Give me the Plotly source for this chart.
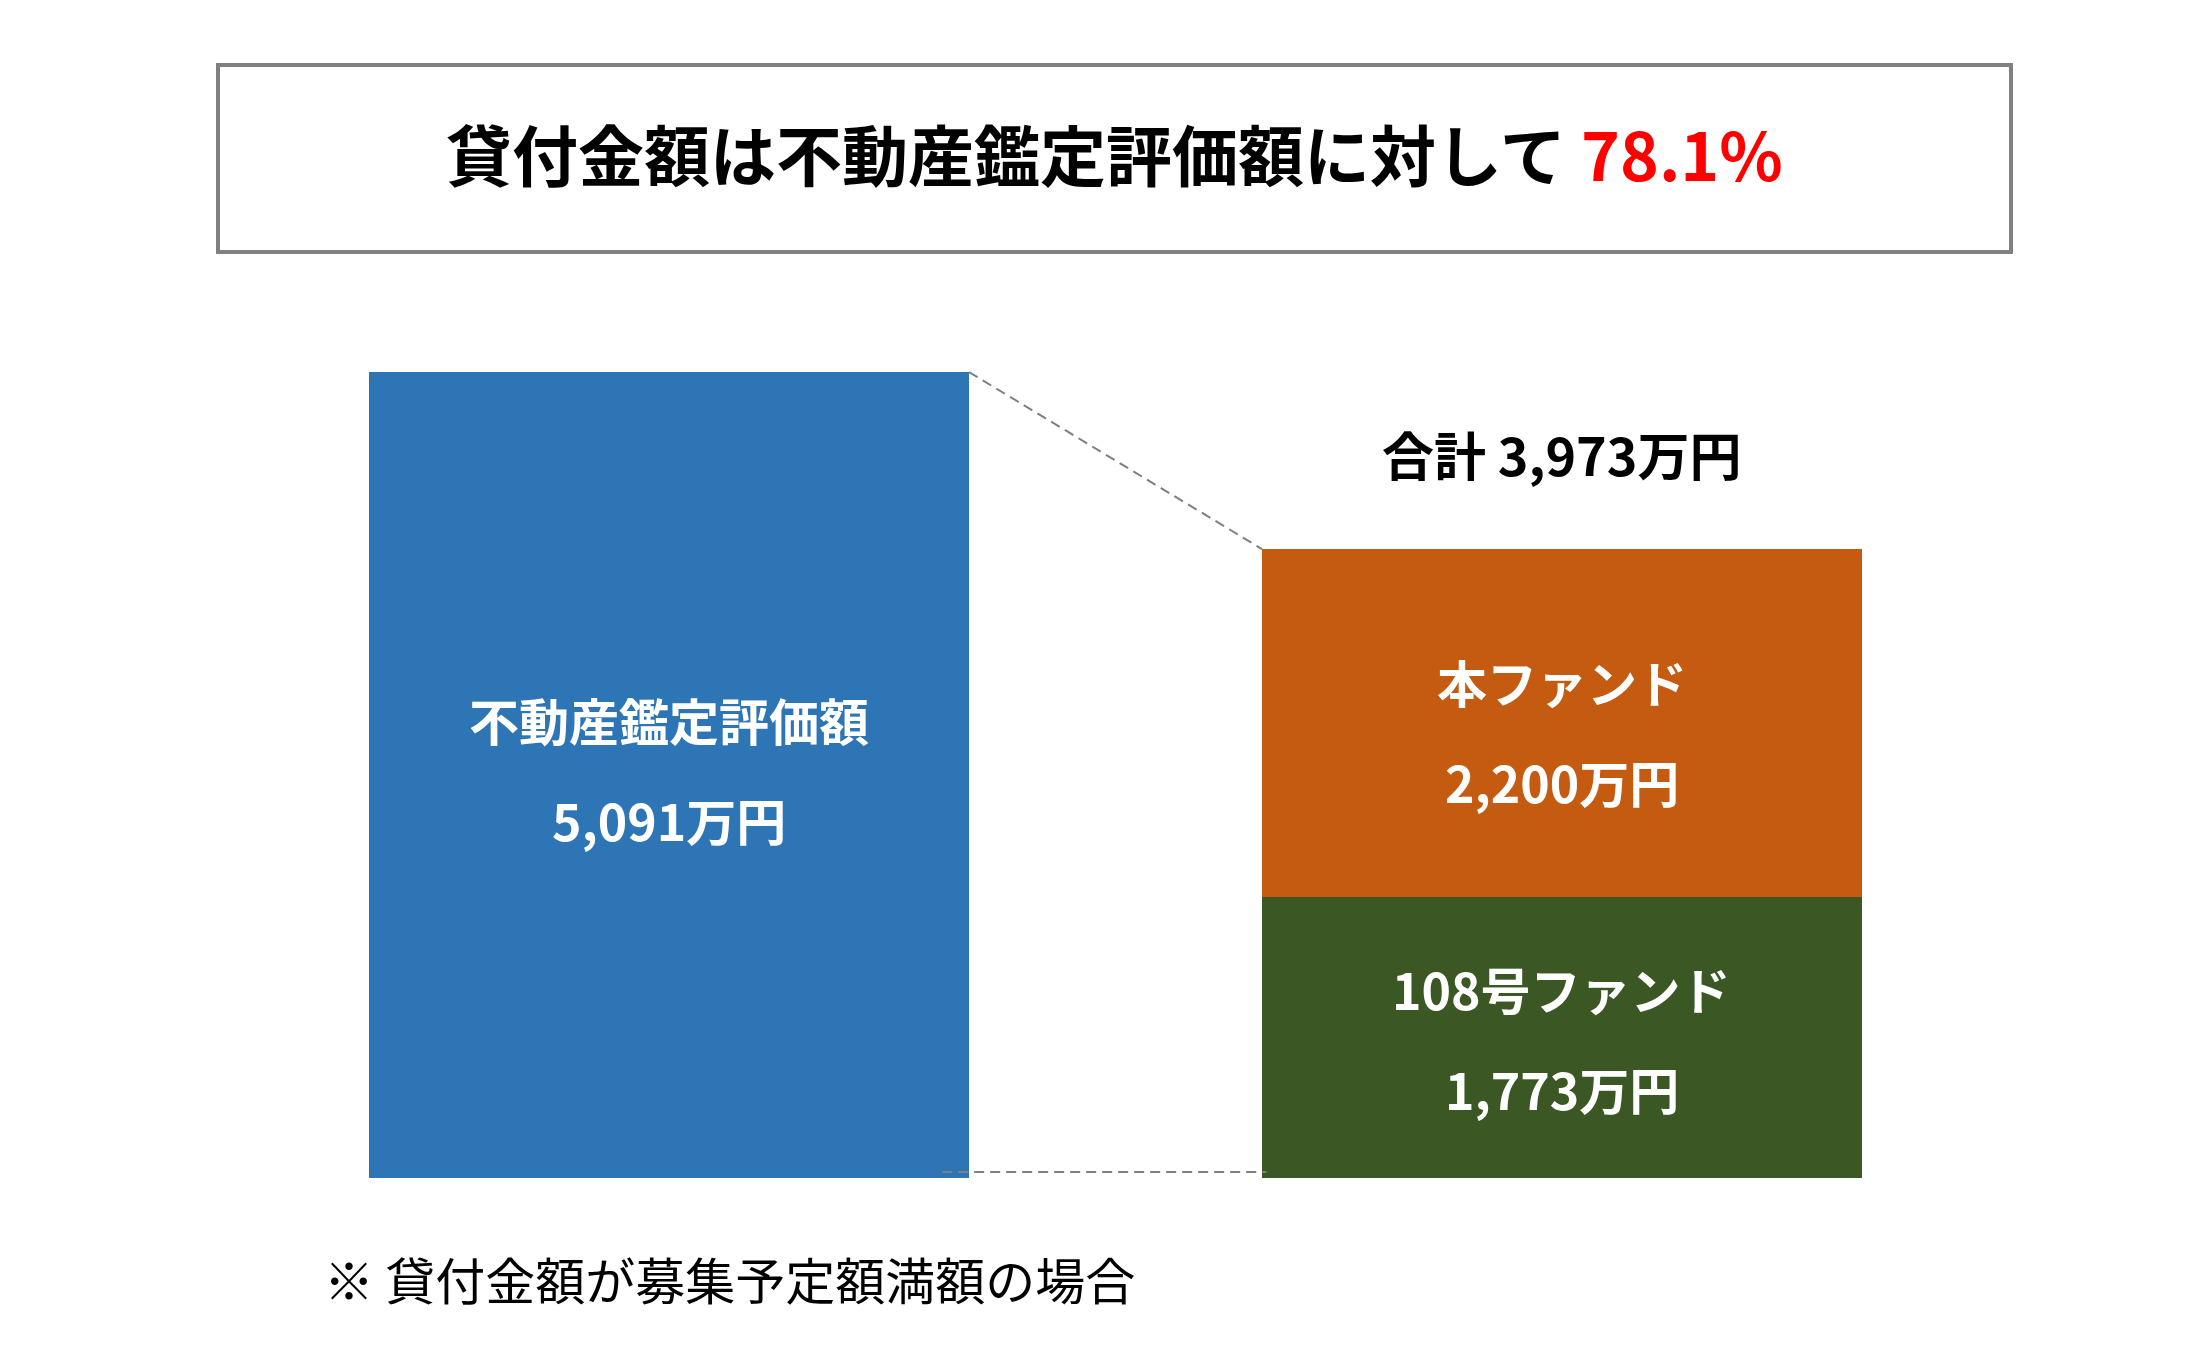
import plotly.graph_objects as go

# ---- data ----
categories = ["不動産鑑定評価額", "本ファンド", "108号ファンド"]
appraisal_value = [5091]          # 万円
fund_this = [2200]                # 万円
fund_108 = [1773]                 # 万円
value_labels = ["5,091万円", "2,200万円", "1,773万円"]
total_label = "合計 3,973万円"
ratio_label = "78.1%"
title_text = "貸付金額は不動産鑑定評価額に対して"
footnote = "※ 貸付金額が募集予定額満額の場合"

# ---- style ----
W, H = 2209, 1352
BAR_W = 0.672
C_BLUE = "#2E75B6"
C_ORANGE = "#C55A11"
C_GREEN = "#3A5724"
FONT = "Noto Sans CJK JP"
DASH_COLOR = "#7F7F7F"

total = fund_this[0] + fund_108[0]

fig = go.Figure()
fig.add_trace(go.Bar(x=[0], y=appraisal_value, width=BAR_W, marker=dict(color=C_BLUE, line=dict(width=0)),
                     hoverinfo="skip", showlegend=False))
fig.add_trace(go.Bar(x=[1], y=fund_108, width=BAR_W, marker=dict(color=C_GREEN, line=dict(width=0)),
                     hoverinfo="skip", showlegend=False))
fig.add_trace(go.Bar(x=[1], y=fund_this, width=BAR_W, marker=dict(color=C_ORANGE, line=dict(width=0)),
                     hoverinfo="skip", showlegend=False))

def px2paper_x(px):
    return px / W

def px2paper_y(py):
    return (H - py) / H

annotations = []
# title
annotations.append(dict(
    xref="paper", yref="paper", x=px2paper_x(1114), y=px2paper_y(152),
    text=f"<b>{title_text} <span style='color:#FF0000'>{ratio_label}</span></b>",
    showarrow=False, font=dict(family=FONT, size=66, color="#000000"),
    xanchor="center", yanchor="middle"))

LBL_FONT = dict(family=FONT, size=50, color="#FFFFFF")
SHIFT = 50
# blue bar labels
mid_blue = appraisal_value[0] / 2
annotations.append(dict(x=0, y=mid_blue, xref="x", yref="y", text=f"<b>{categories[0]}</b>",
                        showarrow=False, font=LBL_FONT, yshift=SHIFT + 6))
annotations.append(dict(x=0, y=mid_blue, xref="x", yref="y", text=f"<b>{value_labels[0]}</b>",
                        showarrow=False, font=LBL_FONT, yshift=-SHIFT + 6))
# orange
mid_or = fund_108[0] + fund_this[0] / 2
annotations.append(dict(x=1, y=mid_or, xref="x", yref="y", text=f"<b>{categories[1]}</b>",
                        showarrow=False, font=LBL_FONT, yshift=SHIFT - 8))
annotations.append(dict(x=1, y=mid_or, xref="x", yref="y", text=f"<b>{value_labels[1]}</b>",
                        showarrow=False, font=LBL_FONT, yshift=-SHIFT - 8))
# green
mid_gr = fund_108[0] / 2
annotations.append(dict(x=1, y=mid_gr, xref="x", yref="y", text=f"<b>{categories[2]}</b>",
                        showarrow=False, font=LBL_FONT, yshift=SHIFT))
annotations.append(dict(x=1, y=mid_gr, xref="x", yref="y", text=f"<b>{value_labels[2]}</b>",
                        showarrow=False, font=LBL_FONT, yshift=-SHIFT))
# total
annotations.append(dict(x=1, y=total, xref="x", yref="y", text=f"<b>{total_label}</b>",
                        showarrow=False, font=dict(family=FONT, size=52, color="#000000"), yshift=96))
# footnote
annotations.append(dict(xref="paper", yref="paper", x=px2paper_x(322), y=px2paper_y(1278),
                        text=footnote, showarrow=False, xanchor="left", yanchor="middle",
                        font=dict(family=FONT, size=50, color="#000000")))

shapes = [
    # title box
    dict(type="rect", xref="paper", yref="paper",
         x0=px2paper_x(218), x1=px2paper_x(2011), y0=px2paper_y(252), y1=px2paper_y(65),
         line=dict(color="#808080", width=4), fillcolor="rgba(0,0,0,0)"),
    # connector top
    dict(type="line", xref="x", yref="y", x0=BAR_W / 2, y0=appraisal_value[0], x1=1 - BAR_W / 2, y1=total,
         line=dict(color=DASH_COLOR, width=2, dash="10px,6px"), layer="above"),
    # connector bottom
    dict(type="line", xref="x", yref="y", ysizemode="pixel", yanchor=0, y0=6, y1=6,
         x0=BAR_W / 2 - 0.03, x1=1 - BAR_W / 2 + 0.005,
         line=dict(color=DASH_COLOR, width=2, dash="10px,6px"), layer="above"),
]

fig.update_layout(
    width=W, height=H,
    margin=dict(l=0, r=0, t=0, b=0),
    paper_bgcolor="#FFFFFF", plot_bgcolor="#FFFFFF",
    barmode="stack", bargap=0,
    xaxis=dict(range=[-0.749, 1.7245], visible=False, fixedrange=True),
    yaxis=dict(range=[-1099, 7441], visible=False, fixedrange=True),
    annotations=annotations, shapes=shapes,
    showlegend=False,
)

fig.write_html("out.html", config={"displayModeBar": False})
